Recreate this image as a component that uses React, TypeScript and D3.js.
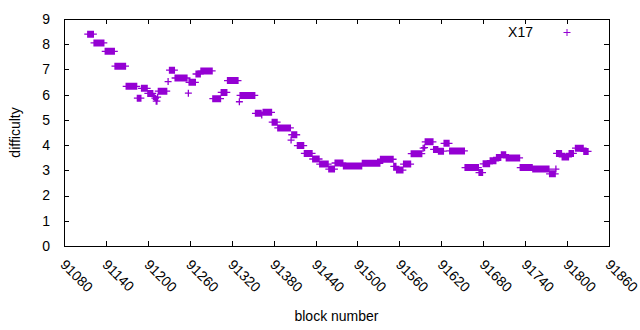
import { useEffect, useRef } from 'react';
import * as d3 from 'd3';

// runs of consecutive blocks sharing the same difficulty
const runStart = [
  91114, 91123, 91139, 91153, 91169, 91185, 91191, 91200, 91208, 91210, 91212, 91214,
  91215, 91229, 91231, 91239, 91258, 91259, 91269, 91276, 91293, 91305, 91314, 91331,
  91332, 91354, 91363, 91365, 91378, 91386, 91405, 91406, 91414, 91424, 91436, 91446,
  91459, 91468, 91480, 91507, 91533, 91552, 91556, 91566, 91577, 91594, 91596, 91597,
  91609, 91616, 91624, 91632, 91654, 91674, 91680, 91690, 91699, 91706, 91713, 91733,
  91751, 91775, 91784, 91785, 91793, 91803, 91812, 91824,
];
const runEnd = [
  91122, 91137, 91152, 91168, 91184, 91190, 91199, 91207, 91209, 91211, 91213, 91214,
  91227, 91229, 91238, 91256, 91258, 91268, 91275, 91292, 91304, 91313, 91329, 91331,
  91353, 91362, 91363, 91377, 91385, 91404, 91405, 91413, 91423, 91435, 91445, 91458,
  91467, 91479, 91506, 91532, 91551, 91555, 91565, 91576, 91592, 91594, 91596, 91608,
  91615, 91623, 91631, 91653, 91673, 91679, 91689, 91698, 91705, 91712, 91732, 91750,
  91774, 91783, 91784, 91792, 91802, 91809, 91823, 91830,
];
const runValue = [
  8.4, 8.05, 7.72, 7.13, 6.33, 5.86, 6.25, 6.05, 5.93, 5.86, 5.74, 5.9,
  6.14, 6.52, 6.97, 6.66, 6.06, 6.49, 6.82, 6.94, 5.84, 6.09, 6.56, 5.72,
  5.97, 5.26, 5.19, 5.3, 4.91, 4.68, 4.2, 4.41, 3.98, 3.67, 3.45, 3.25,
  3.05, 3.29, 3.17, 3.28, 3.44, 3.16, 3.01, 3.25, 3.66, 3.88, 3.9, 4.13,
  3.83, 3.76, 4.07, 3.77, 3.11, 2.91, 3.26, 3.38, 3.51, 3.62, 3.49, 3.11,
  3.05, 2.86, 3.05, 3.67, 3.53, 3.67, 3.88, 3.75,
];

const xTicks = d3.range(91080, 91861, 60);
const yTicks = d3.range(0, 10, 1);

const color = '#9400d3';
const font = '"Liberation Sans", Arial, sans-serif';

export default function App() {
  const svgRef = useRef<SVGSVGElement>(null);

  useEffect(() => {
    if (!svgRef.current) return;
    const W = 640, H = 330;
    const m = { top: 19, right: 31, bottom: 84, left: 64 };
    const width = W - m.left - m.right;
    const height = H - m.top - m.bottom;

    const svg = d3.select(svgRef.current).attr('width', W).attr('height', H);
    svg.selectAll('*').remove();
    const g = svg.append('g').attr('transform', `translate(${m.left},${m.top})`);

    const x = d3.scaleLinear().domain([91080, 91860]).range([0, width]);
    const y = d3.scaleLinear().domain([0, 9]).range([height, 0]);

    const points: { block: number; value: number }[] = [];
    runStart.forEach((s, i) => {
      for (let b = s; b <= runEnd[i]; b++) points.push({ block: b, value: runValue[i] });
    });

    const tl = 5;
    // ticks (mirrored, pointing inward)
    const ticks = g.append('g').attr('stroke', '#000').attr('stroke-width', 1);
    xTicks.forEach(t => {
      const px = Math.round(x(t)) + 0.5;
      ticks.append('line').attr('x1', px).attr('x2', px).attr('y1', height).attr('y2', height - tl);
      ticks.append('line').attr('x1', px).attr('x2', px).attr('y1', 0).attr('y2', tl);
    });
    yTicks.forEach(t => {
      const py = Math.round(y(t)) + 0.5;
      ticks.append('line').attr('x1', 0).attr('x2', tl).attr('y1', py).attr('y2', py);
      ticks.append('line').attr('x1', width).attr('x2', width - tl).attr('y1', py).attr('y2', py);
    });

    // tick labels
    g.append('g').selectAll('text').data(yTicks).enter().append('text')
      .attr('x', -14).attr('y', d => y(d)).attr('dy', '0.35em')
      .attr('text-anchor', 'end').attr('font-family', font).attr('font-size', 14)
      .text(d => d);

    g.append('g').selectAll('text').data(xTicks).enter().append('text')
      .attr('transform', d => `translate(${x(d) - 1},${height + 16}) rotate(45)`)
      .attr('dy', '0.35em')
      .attr('text-anchor', 'start').attr('font-family', font).attr('font-size', 14)
      .text(d => d);

    // data markers
    const r = 3.5;
    const path = points.map(p => {
      const px = x(p.block), py = y(p.value);
      return `M${px - r},${py}h${2 * r}M${px},${py - r}v${2 * r}`;
    }).join('');
    g.append('path').attr('d', path).attr('stroke', color).attr('stroke-width', 1.3).attr('fill', 'none');

    // frame
    g.append('rect').attr('x', 0.5).attr('y', 0.5).attr('width', width).attr('height', height)
      .attr('fill', 'none').attr('stroke', '#000').attr('stroke-width', 1);

    // legend
    g.append('text').attr('x', 469).attr('y', 13).attr('dy', '0.35em')
      .attr('text-anchor', 'end').attr('font-family', font).attr('font-size', 14).text('X17');
    g.append('path').attr('d', `M${503 - r},13.5h${2 * r}M503,${13.5 - r}v${2 * r}`)
      .attr('stroke', color).attr('stroke-width', 1).attr('fill', 'none');

    // axis titles
    svg.append('text').attr('transform', `translate(20,${m.top + height / 2}) rotate(-90)`)
      .attr('text-anchor', 'middle').attr('font-family', font).attr('font-size', 14).text('difficulty');
    svg.append('text').attr('x', m.left + width / 2).attr('y', 321)
      .attr('text-anchor', 'middle').attr('font-family', font).attr('font-size', 14).text('block number');
  }, []);

  return (
    <div style={{ position: 'absolute', left: 0, top: 0, background: '#fff' }}>
      <svg ref={svgRef} style={{ display: 'block' }} />
    </div>
  );
}
